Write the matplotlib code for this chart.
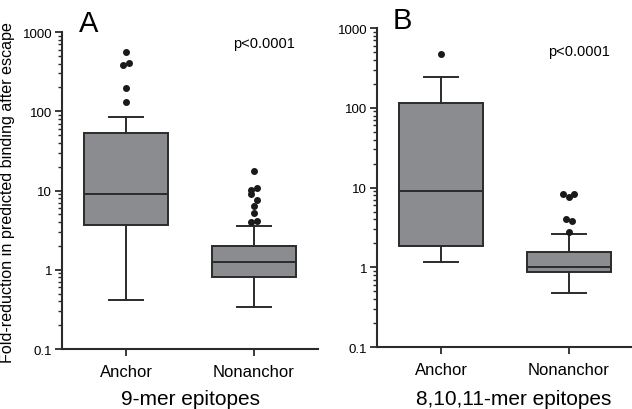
import numpy as np
import matplotlib
matplotlib.use('Agg')
import matplotlib.pyplot as plt
from matplotlib.ticker import LogLocator, NullFormatter

plt.rcParams['font.family'] = ['Liberation Sans', 'DejaVu Sans']

categories = ['Anchor', 'Nonanchor']

# box stats: (whislo, q1, med, q3, whishi)
stats_9mer = [(0.42, 3.7, 9.0, 53.0, 84.0), (0.34, 0.81, 1.27, 2.0, 3.6)]
fliers_9mer = [[565, 382, 410, 195, 129],
               [17.7, 10.7, 10.1, 9.0, 7.6, 6.3, 5.2, 4.1, 4.0]]
# small horizontal spread of the outlier dots (category units)
jitter_9mer = [[0, -0.02, 0.02, 0, 0],
               [0, 0.02, -0.02, -0.02, 0.025, 0, 0, 0.02, -0.02]]

stats_other = [(1.15, 1.85, 9.1, 114.0, 240.0), (0.47, 0.87, 1.01, 1.57, 2.6)]
fliers_other = [[479], [8.2, 7.5, 8.2, 4.0, 3.8, 2.75]]
jitter_other = [[0], [-0.045, 0, 0.04, -0.025, 0.02, 0]]

panel_letters = ['A', 'B']
titles = ['9-mer epitopes', '8,10,11-mer epitopes']
p_text = 'p<0.0001'

box_color = '#8b8c8f'
line_color = '#2b2b2b'

fig = plt.figure(figsize=(6.32, 4.10), dpi=100)
ax_a = fig.add_axes([0.0981, 0.1463, 0.405, 0.7732])
ax_b = fig.add_axes([0.5965, 0.1512, 0.405, 0.7780])


def draw_panel(ax, stats, fliers, jitter):
    bxp_stats = []
    for (lo, q1, med, q3, hi), fl in zip(stats, fliers):
        bxp_stats.append({'whislo': lo, 'q1': q1, 'med': med, 'q3': q3,
                          'whishi': hi, 'fliers': np.array(fl)})
    parts = ax.bxp(bxp_stats, positions=[1, 2], widths=0.66, capwidths=0.26,
                   patch_artist=True, showfliers=True,
                   boxprops=dict(facecolor=box_color, edgecolor=line_color, linewidth=1.4),
                   medianprops=dict(color=line_color, linewidth=1.4),
                   whiskerprops=dict(color=line_color, linewidth=1.4),
                   capprops=dict(color=line_color, linewidth=1.4),
                   flierprops=dict(marker='o', markerfacecolor='#1a1a1a',
                                   markeredgecolor='#1a1a1a', markersize=4))
    # spread the outlier dots a little, like in the original figure
    for line, jit in zip(parts['fliers'], jitter):
        line.set_xdata(np.asarray(line.get_xdata(), dtype=float) + np.array(jit))
    ax.set_yscale('log')
    ax.set_ylim(0.1, 1000)
    ax.set_xlim(0.5, 2.5)
    ax.set_yticks([0.1, 1, 10, 100, 1000])
    ax.set_yticklabels(['0.1', '1', '10', '100', '1000'])
    ax.yaxis.set_minor_locator(LogLocator(base=10, subs=np.arange(2, 10)))
    ax.yaxis.set_minor_formatter(NullFormatter())
    ax.set_xticks([1, 2])
    ax.set_xticklabels(categories, fontsize=12)
    for s in ['top', 'right']:
        ax.spines[s].set_visible(False)
    for s in ['left', 'bottom']:
        ax.spines[s].set_linewidth(1.5)
        ax.spines[s].set_color(line_color)
    ax.tick_params(axis='y', which='major', length=5, width=1.3, labelsize=9.5,
                   color=line_color, pad=2)
    ax.tick_params(axis='y', which='minor', length=3, width=1.0, color=line_color)
    ax.tick_params(axis='x', length=5, width=1.3, color=line_color, pad=6)


draw_panel(ax_a, stats_9mer, fliers_9mer, jitter_9mer)
draw_panel(ax_b, stats_other, fliers_other, jitter_other)

fig.text(0.141, 0.975, panel_letters[0], fontsize=21, va='top', ha='center')
fig.text(0.636, 0.982, panel_letters[1], fontsize=21, va='top', ha='center')
fig.text(0.418, 0.893, p_text, fontsize=10.5, va='center', ha='center')
fig.text(0.916, 0.873, p_text, fontsize=10.5, va='center', ha='center')
fig.text(0.301, 0.025, titles[0], fontsize=15, va='center', ha='center')
fig.text(0.813, 0.025, titles[1], fontsize=15, va='center', ha='center')
fig.text(0.012, 0.530, 'Fold-reduction in predicted binding after escape',
         fontsize=11.6, rotation=90, va='center', ha='center')

fig.savefig('out.png', dpi=100)
